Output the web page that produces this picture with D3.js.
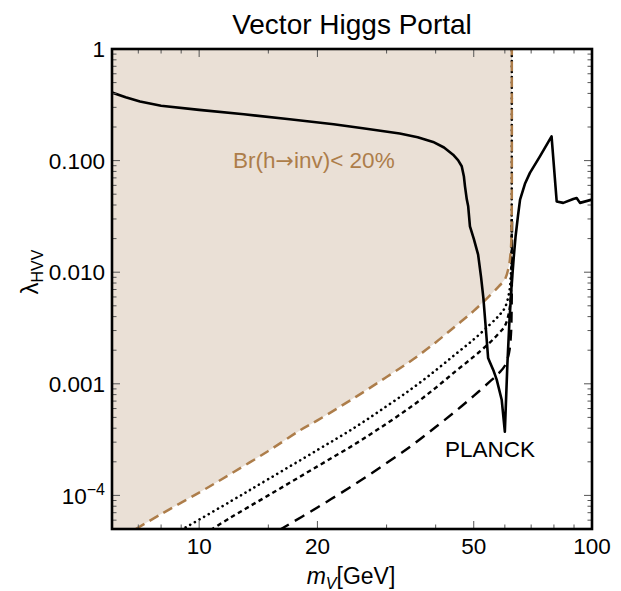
<!DOCTYPE html>
<html>
<head>
<meta charset="utf-8">
<script src="https://cdn.jsdelivr.net/npm/d3@7"></script>
<style>
  body { margin: 0; background: #fff; }
  text { font-family: "Liberation Sans", Arial, sans-serif; }
</style>
</head>
<body>
<div id="chart"></div>
<script>
// axis ticks
const massTicks = [10, 20, 50, 100];
const massMinorTicks = [7, 8, 9, 15, 30, 40, 60, 70, 80, 90];
const lambdaTicks = [1e-4, 1e-3, 1e-2, 1e-1, 1];
const lambdaLabels = ["10|-4", "0.001", "0.010", "0.100", "1"];

// Br(h->inv) < 20% boundary (brown dashed, shaded above)
const brMass   = [6.9, 8, 10, 12, 15, 18, 20, 25, 30, 35, 40, 45, 50, 55, 58, 60, 61.5, 62.1, 62.4, 62.5, 62.5];
const brLambda = [5.0e-5, 6.8e-5, 1.06e-4, 1.55e-4, 2.5e-4, 3.8e-4, 4.7e-4, 7.6e-4, 1.15e-3, 1.65e-3, 2.35e-3, 3.3e-3, 4.5e-3, 6.2e-3, 7.5e-3, 8.6e-3, 0.0115, 0.0155, 0.022, 0.045, 1];

// dotted
const dotMass   = [9.0, 12, 15, 20, 25, 30, 35, 40, 45, 50, 55, 58, 60, 61.5, 62.1, 62.35, 62.45, 62.5];
const dotLambda = [4.9e-5, 8.8e-5, 1.4e-4, 2.55e-4, 4.1e-4, 6.3e-4, 9.2e-4, 1.32e-3, 1.85e-3, 2.5e-3, 3.4e-3, 4.1e-3, 4.8e-3, 6.5e-3, 9.0e-3, 0.013, 0.025, 1];

// short dashed
const shortMass   = [10.7, 12, 15, 20, 25, 30, 35, 40, 45, 50, 55, 58, 60, 61.5, 62.2, 62.4, 62.5];
const shortLambda = [4.9e-5, 6.3e-5, 1.0e-4, 1.82e-4, 2.9e-4, 4.4e-4, 6.4e-4, 9.2e-4, 1.3e-3, 1.75e-3, 2.35e-3, 2.85e-3, 3.3e-3, 4.4e-3, 6.5e-3, 0.011, 0.03];

// long dashed
const longMass   = [16.0, 20, 25, 30, 35, 40, 45, 50, 55, 58, 60, 61.5, 62.2, 62.45, 62.55, 62.6];
const longLambda = [4.9e-5, 7.8e-5, 1.27e-4, 1.95e-4, 2.85e-4, 4.1e-4, 5.7e-4, 7.8e-4, 1.05e-3, 1.25e-3, 1.45e-3, 1.9e-3, 2.8e-3, 5e-3, 0.012, 0.03];

// PLANCK relic density (solid)
const planckMass   = [6.0, 6.5, 7.07, 8, 10, 13, 17, 22, 26.1, 32.4, 36, 39.4, 42, 44.3, 45.6, 46.6, 47.2, 47.5, 48.0, 48.4, 48.9, 50, 51.3, 52.2, 52.9, 53.7, 54.4, 55.0, 56.2, 57.2, 58.9, 60.0,
                      60.9, 61.6, 62.4, 63.2, 63.9, 64.8, 65.6, 67.5, 69.5, 73.7, 78.9, 81.3, 84.5, 89.6, 91.4, 93.2, 100];
const planckLambda = [0.407, 0.37, 0.338, 0.31, 0.285, 0.26, 0.235, 0.212, 0.195, 0.175, 0.162, 0.147, 0.131, 0.113, 0.101, 0.089, 0.072, 0.0588, 0.045, 0.0389, 0.0258, 0.020, 0.01435, 0.009, 5.9e-3, 3.05e-3, 1.70e-3, 1.55e-3, 1.3e-3, 1.09e-3, 7.2e-4, 3.73e-4,
                      1.5e-3, 3.5e-3, 7.5e-3, 0.0135, 0.021, 0.032, 0.0447, 0.062, 0.0776, 0.109, 0.165, 0.0431, 0.0418, 0.0453, 0.0462, 0.0418, 0.0447];

const brown = "#ad7d4a";
const shade = "#eae0d6";

const W = 621, H = 591;
const margin = {top: 49, right: 29, bottom: 62, left: 112};
const width = W - margin.left - margin.right;
const height = H - margin.top - margin.bottom;

const svg = d3.select("#chart").append("svg")
    .attr("width", W)
    .attr("height", H);

const g = svg.append("g")
    .attr("transform", "translate(" + margin.left + "," + margin.top + ")");

const x = d3.scaleLog().domain([6, 100]).range([0, width]);
const y = d3.scaleLog().domain([5e-5, 1]).range([height, 0]);

const zip = (a, b) => a.map((d, i) => [d, b[i]]);

g.append("defs").append("clipPath").attr("id", "clip")
    .append("rect").attr("width", width).attr("height", height);

const plot = g.append("g").attr("clip-path", "url(#clip)");

// shaded allowed region
const brPts = zip(brMass, brLambda);
const areaPts = [[6, 5e-5]].concat(brPts, [[6, 1]]);
plot.append("path")
    .datum(areaPts)
    .attr("d", d3.line().x(d => x(d[0])).y(d => y(d[1])).curve(d3.curveLinearClosed))
    .attr("fill", shade);

const smooth = d3.line().x(d => x(d[0])).y(d => y(d[1])).curve(d3.curveCatmullRom.alpha(0.5));
const straight = d3.line().x(d => x(d[0])).y(d => y(d[1]));

plot.append("path").datum(zip(longMass, longLambda))
    .attr("d", smooth).attr("fill", "none").attr("stroke", "#000")
    .attr("stroke-width", 2.4).attr("stroke-dasharray", "11,7");

plot.append("path").datum(zip(shortMass, shortLambda))
    .attr("d", smooth).attr("fill", "none").attr("stroke", "#000")
    .attr("stroke-width", 2.4).attr("stroke-dasharray", "4.5,3.5");

plot.append("path").datum(zip(dotMass, dotLambda))
    .attr("d", smooth).attr("fill", "none").attr("stroke", "#000")
    .attr("stroke-width", 2.6).attr("stroke-linecap", "round").attr("stroke-dasharray", "0.1,5.2");

plot.append("path").datum(brPts)
    .attr("d", smooth).attr("fill", "none").attr("stroke", brown)
    .attr("stroke-width", 2.5).attr("stroke-dasharray", "10,6");

plot.append("path").datum(zip(planckMass, planckLambda))
    .attr("d", straight).attr("fill", "none").attr("stroke", "#000")
    .attr("stroke-width", 2.6).attr("stroke-linejoin", "round");

// ticks on all four sides, pointing inward
const ticks = g.append("g").attr("stroke", "#555").attr("stroke-width", 1);
function hTicks(vals, len) {
    vals.forEach(v => {
        ticks.append("line").attr("x1", x(v)).attr("x2", x(v)).attr("y1", height).attr("y2", height - len);
        ticks.append("line").attr("x1", x(v)).attr("x2", x(v)).attr("y1", 0).attr("y2", len);
    });
}
function vTicks(vals, len) {
    vals.forEach(v => {
        ticks.append("line").attr("y1", y(v)).attr("y2", y(v)).attr("x1", 0).attr("x2", len);
        ticks.append("line").attr("y1", y(v)).attr("y2", y(v)).attr("x1", width).attr("x2", width - len);
    });
}
hTicks(massTicks, 8);
hTicks(massMinorTicks, 4.5);
vTicks(lambdaTicks, 8);
const lambdaMinor = [];
[-5, -4, -3, -2, -1].forEach(e => d3.range(2, 10).forEach(k => {
    const v = k * Math.pow(10, e);
    if (v > 5e-5 && v < 1) lambdaMinor.push(v);
}));
vTicks(lambdaMinor, 4.5);

// frame
g.append("rect").attr("width", width).attr("height", height)
    .attr("fill", "none").attr("stroke", "#000").attr("stroke-width", 2.6);

// tick labels
g.selectAll(".xl").data(massTicks).enter().append("text")
    .attr("x", d => x(d)).attr("y", height + 25)
    .attr("text-anchor", "middle").attr("font-size", 22.5).text(d => d);

lambdaTicks.forEach((v, i) => {
    const t = g.append("text").attr("x", -7).attr("y", y(v)).attr("dy", "0.36em")
        .attr("text-anchor", "end").attr("font-size", 22.5);
    const parts = lambdaLabels[i].split("|");
    t.append("tspan").text(parts[0]);
    if (parts[1]) {
        t.append("tspan").attr("dy", "-0.55em").attr("font-size", 16).text("\u2212" + parts[1].slice(1));
    }
});

// title
svg.append("text").attr("x", 352).attr("y", 34).attr("text-anchor", "middle")
    .attr("font-size", 28).text("Vector Higgs Portal");

// x title
const xt = svg.append("text").attr("x", 351).attr("y", 584).attr("text-anchor", "middle").attr("font-size", 23);
xt.append("tspan").attr("font-style", "italic").text("m");
xt.append("tspan").attr("font-style", "italic").attr("font-size", 16).attr("dy", 5).text("V");
xt.append("tspan").attr("dy", -5).text("[GeV]");

// y title
const yt = svg.append("text").attr("transform", "translate(38,272) rotate(-90)")
    .attr("text-anchor", "middle").attr("font-size", 24);
yt.append("tspan").text("\u03bb");
yt.append("tspan").attr("font-size", 16).attr("dy", 5).text("HVV");

// annotations
const br = g.append("text").attr("x", 233 - margin.left).attr("y", 168 - margin.top)
    .attr("font-size", 22.5).attr("fill", brown);
br.append("tspan").text("Br(h");
br.append("tspan").attr("font-family", "DejaVu Sans").attr("font-size", 22).text("\u2192");
br.append("tspan").text("inv)< 20%");
g.append("text").attr("x", 445 - margin.left).attr("y", 457 - margin.top)
    .attr("font-size", 22.5).attr("fill", "#000").text("PLANCK");
</script>
</body>
</html>
